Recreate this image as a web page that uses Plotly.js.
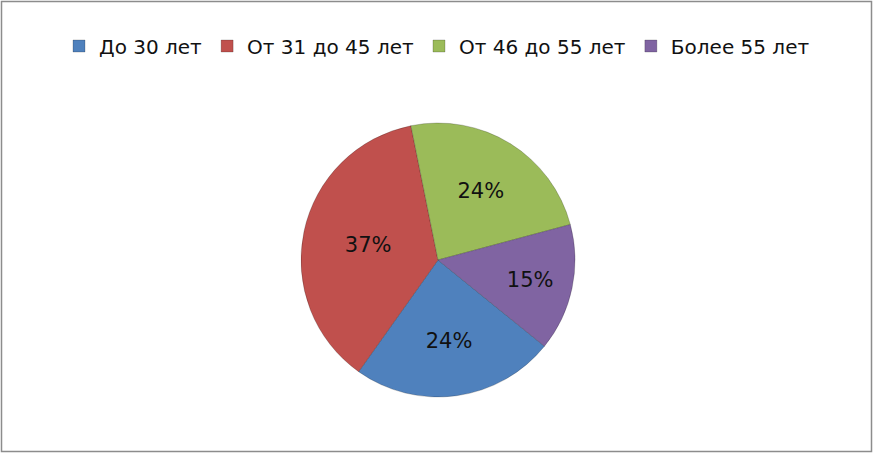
<!DOCTYPE html>
<html>
<head>
<meta charset="utf-8">
<script src="https://cdn.plot.ly/plotly-3.0.1.min.js"></script>
<style>
html, body { margin: 0; padding: 0; background: #fff; }
#chart { width: 873px; height: 453px; }
</style>
</head>
<body>
<div id="chart"></div>
<script>
const categories = ['До 30 лет', 'От 31 до 45 лет', 'От 46 до 55 лет', 'Более 55 лет'];
const shares = [24, 37, 24, 15];
const sliceColors = ['#4F81BD', '#C0504D', '#9BBB59', '#8064A2'];

const W = 873, H = 453;

const trace = {
  type: 'pie',
  labels: categories,
  values: shares,
  sort: false,
  direction: 'clockwise',
  rotation: 129,
  marker: { colors: sliceColors, line: { color: 'rgba(0,0,0,0.25)', width: 0.8 } },
  textinfo: 'percent',
  texttemplate: '%{percent:.0%}',
  textposition: 'inside',
  insidetextorientation: 'horizontal',
  insidetextfont: { family: 'DejaVu Sans', size: 21, color: '#111111' },
  hoverinfo: 'label+percent',
  domain: { x: [300 / W, 576 / W], y: [1 - 397 / H, 1 - 123 / H] }
};

const layout = {
  width: W,
  height: H,
  margin: { l: 0, r: 0, t: 0, b: 0 },
  paper_bgcolor: '#ffffff',
  showlegend: true,
  legend: {
    orientation: 'h',
    x: 437 / W,
    xanchor: 'center',
    y: 1 - 46 / H,
    yanchor: 'middle',
    font: { family: 'DejaVu Sans', size: 20, color: '#111111' },
    traceorder: 'normal',
    itemclick: false
  },
  shapes: [{
    type: 'rect', xref: 'paper', yref: 'paper',
    x0: 1.5 / W, x1: 871.5 / W, y0: 1.5 / H, y1: 451.5 / H,
    line: { color: '#8c8c8c', width: 1.5 }, fillcolor: 'rgba(0,0,0,0)'
  }]
};

Plotly.newPlot('chart', [trace], layout, { displayModeBar: false, staticPlot: true });
</script>
</body>
</html>
